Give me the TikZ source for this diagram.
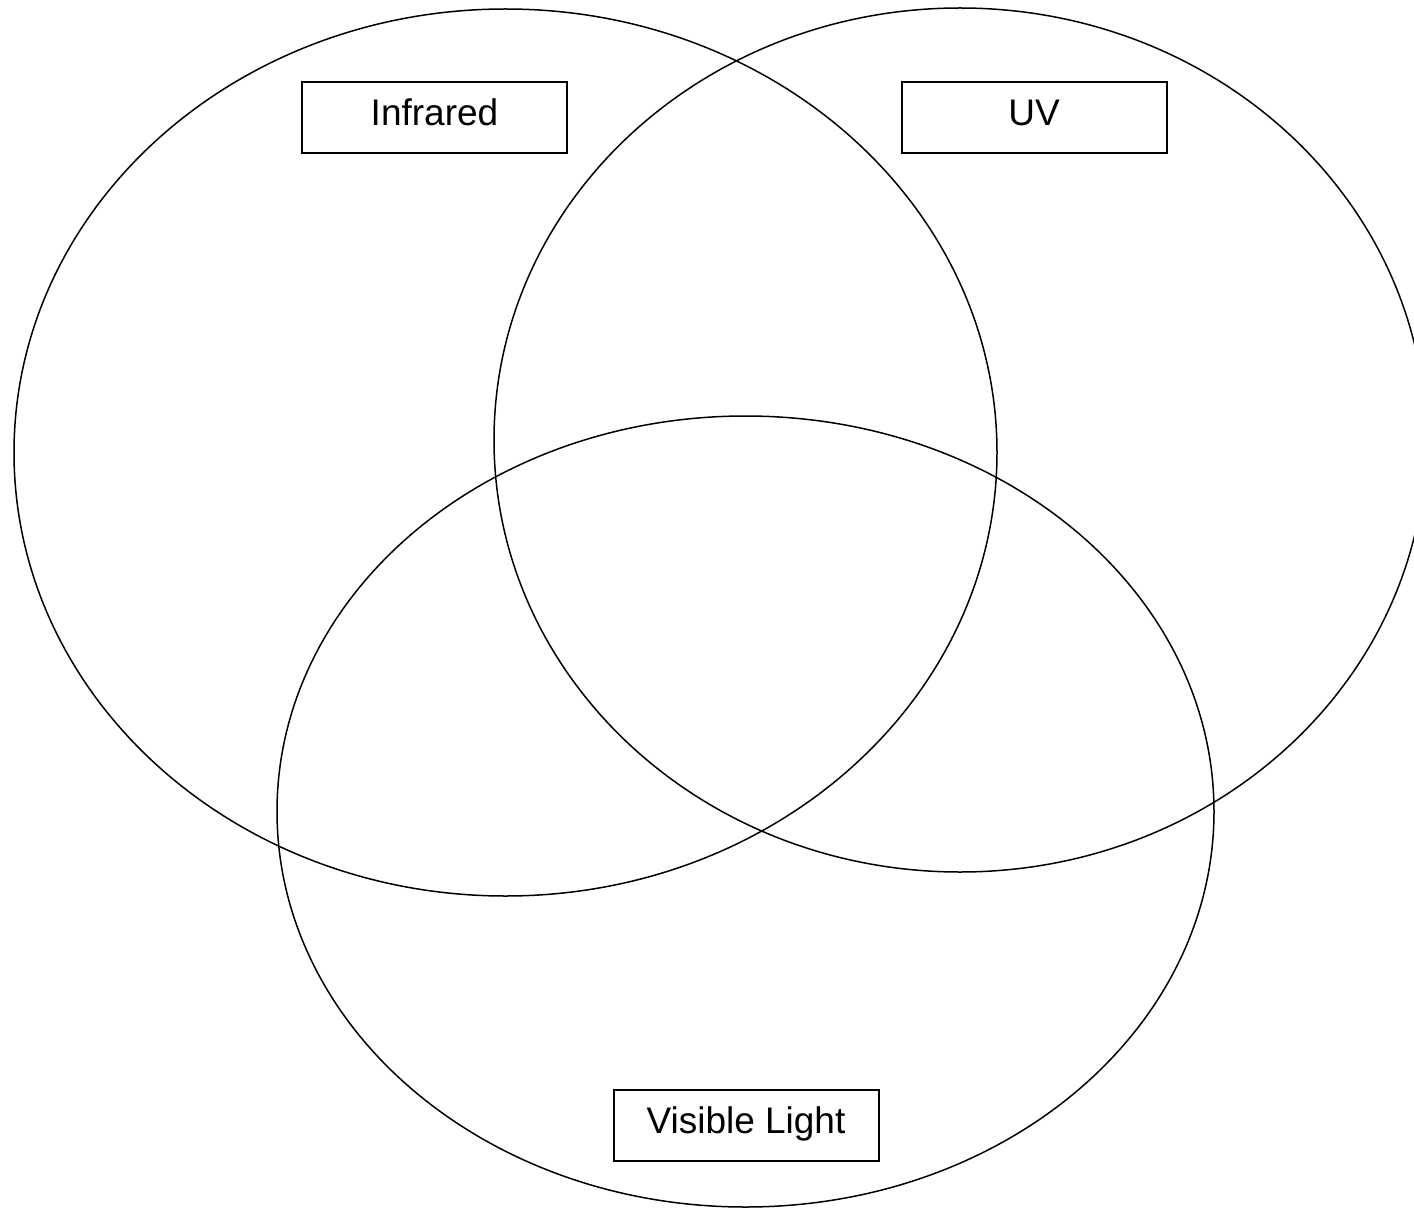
\documentclass[tikz,border=0pt]{standalone}
\usepackage{fontspec}
\setmainfont{Liberation Sans}
\begin{document}
\begin{tikzpicture}[x=0.5pt,y=-0.5pt,
  ring/.style={draw=black,line width=0.75pt},
  tag/.style={draw=black,line width=1pt,fill=white,inner sep=0pt,
    minimum width=132.5pt,minimum height=35.5pt,
    text height=13.5pt,text depth=5pt,
    font=\fontsize{18.5pt}{22pt}\selectfont}]
  \useasboundingbox (0,0) rectangle (1414,1209);
  \clip (0,0) rectangle (1414,1209);
  % centres of the three sets
  \coordinate (ir)  at (505.5,452.5);
  \coordinate (uv)  at (960,440);
  \coordinate (vis) at (745.5,811.5);
  % radii in pt (one unit is half a point)
  \draw[ring] (ir)  ellipse [x radius=245.75pt, y radius=221.75pt];
  \draw[ring] (uv)  ellipse [x radius=233pt,    y radius=216pt];
  \draw[ring] (vis) ellipse [x radius=234.25pt, y radius=197.75pt];
  % set labels
  \node[tag] (irlabel)  at (434.5,117.5)  {Infrared};
  \node[tag] (uvlabel)  at (1034,117.5)   {UV};
  \node[tag] (vislabel) at (746,1125)     {Visible Light};
\end{tikzpicture}
\end{document}
